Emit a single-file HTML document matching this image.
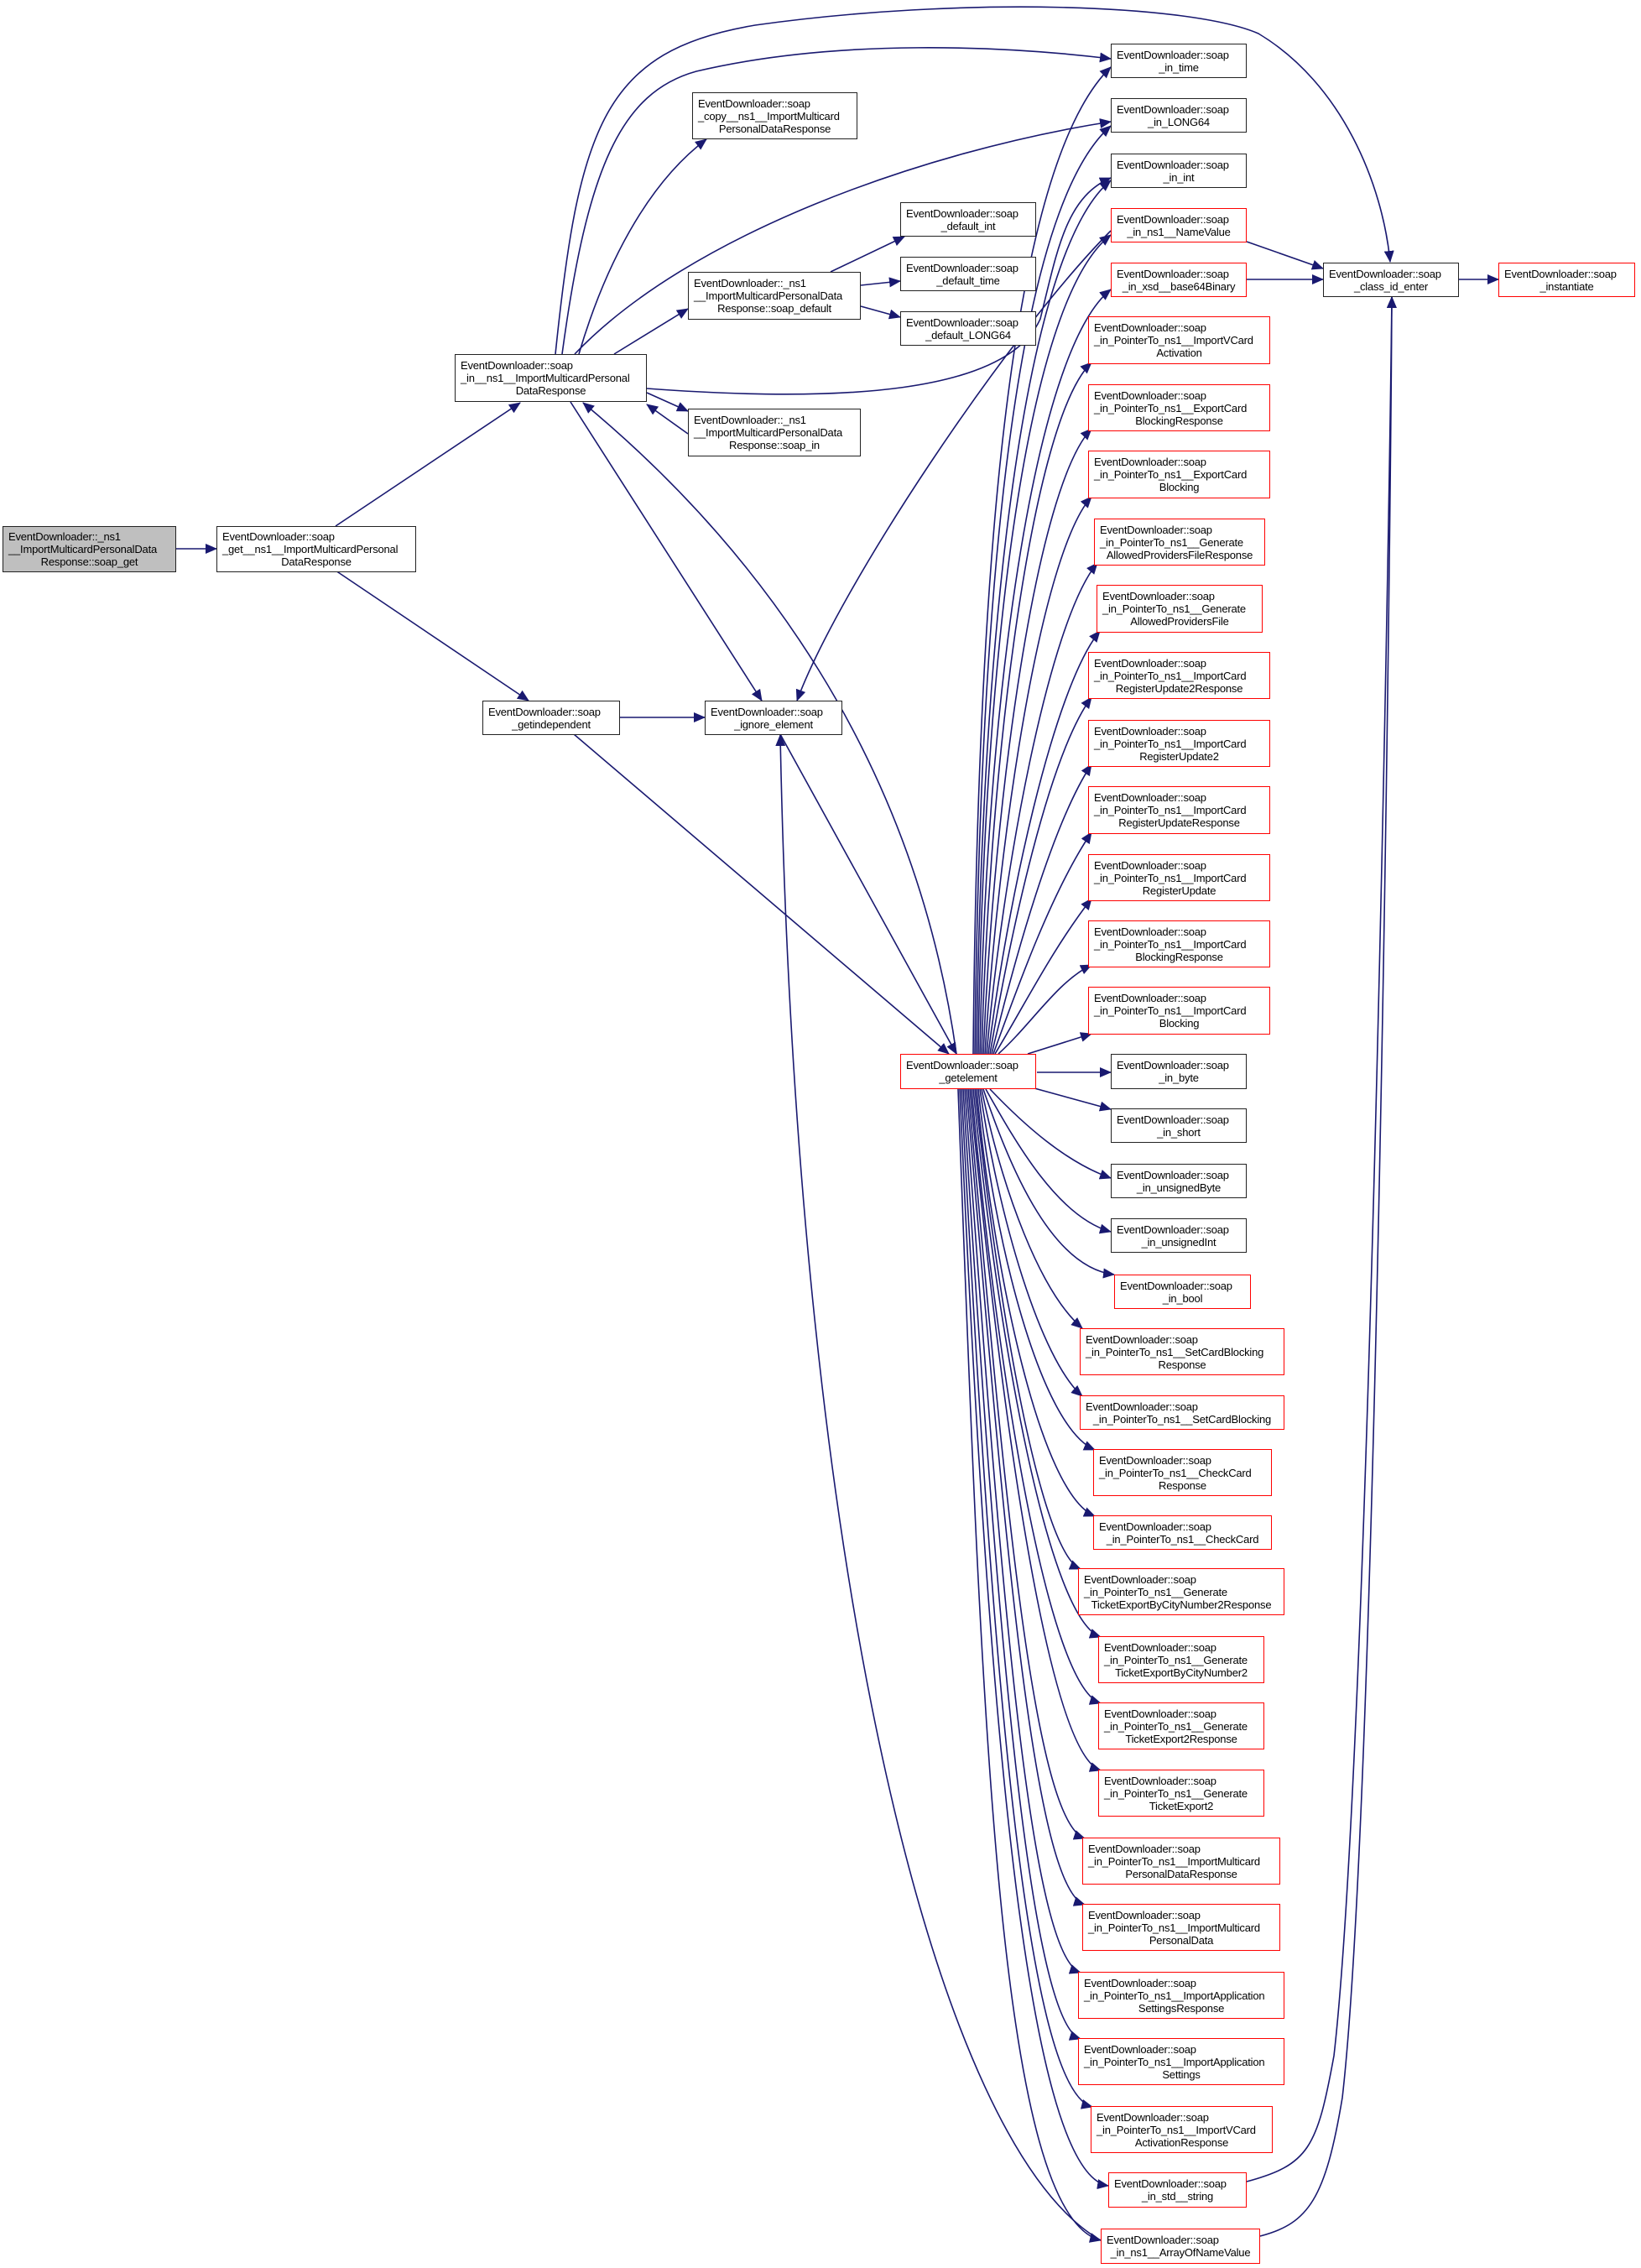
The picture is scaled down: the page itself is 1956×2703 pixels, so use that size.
<!DOCTYPE html>
<html><head><meta charset="utf-8"><style>
body{margin:0;background:#fff;width:1956px;height:2703px;position:relative;overflow:hidden;font-family:"Liberation Sans",sans-serif;}
.n{position:absolute;box-sizing:border-box;border:1.5px solid #222;background:#fff;font-size:13px;line-height:15px;color:#000;display:flex;flex-direction:column;justify-content:center;padding:0 6px;}
.n div{text-align:left;white-space:nowrap;letter-spacing:-0.2px}
.n div:last-child{text-align:center}
.r{border-color:#f00}
.g{background:#bfbfbf}
svg{position:absolute;left:0;top:0}
</style></head><body>
<svg width="1956" height="2703" viewBox="0 0 1956 2703">
<defs><marker id="a" markerUnits="userSpaceOnUse" markerWidth="14" markerHeight="12" refX="13" refY="6" orient="auto"><path d="M0,0 L14,6 L0,12 z" fill="#191970"/></marker></defs>
<g fill="none" stroke="#191970" stroke-width="1.6" marker-end="url(#a)">
<path d="M210 654 L258 654"/>
<path d="M400 627 L620 480"/>
<path d="M400 680 L630 835"/>
<path d="M739 855 L840 855"/>
<path d="M684 875 L1131 1256"/>
<path d="M930 875 L1140 1256"/>
<path d="M680 479 L908 835"/>
<path d="M1140 1256 C1090 900 900 650 695 480"/>
<path d="M1324 275 C1200 400 1000 700 950 835"/>
<path d="M1312 2670 C1120 2560 950 1900 930 876"/>
<path d="M662 422 C690 150 720 60 900 30 C1150 -5 1420 5 1500 40 C1600 100 1648 220 1657 312"/>
<path d="M670 422 C700 200 740 110 830 85 C1000 45 1200 55 1324 70"/>
<path d="M690 422 C720 320 770 220 842 166"/>
<path d="M685 422 C820 280 1100 180 1324 145"/>
<path d="M732 422 L820 368"/>
<path d="M771 463 C1000 480 1200 470 1240 380 C1260 300 1270 235 1324 212"/>
<path d="M771 468 L820 490"/>
<path d="M820 517 L771 482"/>
<path d="M990 324 L1078 282"/>
<path d="M1026 340 L1073 335"/>
<path d="M1026 365 L1073 378"/>
<path d="M1486 288 L1577 320"/>
<path d="M1486 333 L1577 333"/>
<path d="M1739 333 L1786 333"/>
<path d="M1486 2600 C1560 2580 1570 2560 1590 2450 C1630 2100 1655 700 1659 354"/>
<path d="M1502 2665 C1560 2650 1580 2620 1600 2500 C1640 2150 1657 700 1659 354"/>
<path d="M1160 1256 C1165 700 1200 200 1324 80"/>
<path d="M1162 1256 C1168 700 1210 250 1324 150"/>
<path d="M1164 1256 C1170 750 1220 300 1324 215"/>
<path d="M1166 1256 C1172 800 1220 360 1324 280"/>
<path d="M1168 1256 C1175 850 1230 420 1324 345"/>
<path d="M1170 1256 C1180 900 1230 500 1301 432"/>
<path d="M1172 1256 C1185 950 1235 580 1301 511"/>
<path d="M1174 1256 C1190 1000 1240 660 1301 592"/>
<path d="M1176 1256 C1195 1040 1250 740 1308 671"/>
<path d="M1178 1256 C1200 1080 1255 820 1311 752"/>
<path d="M1180 1256 C1205 1110 1250 900 1301 831"/>
<path d="M1182 1256 C1210 1140 1255 980 1301 911"/>
<path d="M1184 1256 C1215 1170 1255 1060 1301 992"/>
<path d="M1186 1256 C1220 1200 1255 1130 1301 1071"/>
<path d="M1190 1256 C1230 1220 1260 1170 1301 1150"/>
<path d="M1225 1256 L1301 1232"/>
<path d="M1236 1278 L1324 1278"/>
<path d="M1233 1297 L1324 1322"/>
<path d="M1180 1298 C1220 1340 1270 1385 1324 1404"/>
<path d="M1175 1298 C1210 1360 1260 1450 1324 1468"/>
<path d="M1172 1298 C1200 1380 1250 1510 1328 1519"/>
<path d="M1170 1298 C1195 1420 1240 1540 1290 1583"/>
<path d="M1168 1298 C1190 1450 1240 1620 1290 1664"/>
<path d="M1166 1298 C1185 1480 1240 1700 1305 1728"/>
<path d="M1164 1298 C1185 1520 1240 1780 1305 1807"/>
<path d="M1162 1298 C1190 1560 1240 1850 1288 1870"/>
<path d="M1160 1298 C1190 1600 1250 1930 1312 1951"/>
<path d="M1158 1298 C1190 1650 1250 2010 1312 2030"/>
<path d="M1156 1298 C1195 1700 1250 2090 1312 2110"/>
<path d="M1154 1298 C1195 1750 1230 2170 1293 2191"/>
<path d="M1152 1298 C1195 1800 1230 2250 1293 2270"/>
<path d="M1150 1298 C1190 1850 1225 2330 1288 2351"/>
<path d="M1148 1298 C1185 1900 1225 2410 1288 2430"/>
<path d="M1146 1298 C1180 1950 1220 2490 1302 2511"/>
<path d="M1144 1298 C1175 2000 1220 2590 1321 2605"/>
<path d="M1142 1298 C1170 2050 1190 2640 1312 2670"/>
</g>
</svg>
<div class="n g" style="left:3px;top:627px;width:207px;height:55px"><div>EventDownloader::_ns1</div><div>__ImportMulticardPersonalData</div><div>Response::soap_get</div></div>
<div class="n" style="left:258px;top:627px;width:238px;height:55px"><div>EventDownloader::soap</div><div>_get__ns1__ImportMulticardPersonal</div><div>DataResponse</div></div>
<div class="n" style="left:542px;top:422px;width:229px;height:57px"><div>EventDownloader::soap</div><div>_in__ns1__ImportMulticardPersonal</div><div>DataResponse</div></div>
<div class="n" style="left:575px;top:835px;width:164px;height:41px"><div>EventDownloader::soap</div><div>_getindependent</div></div>
<div class="n" style="left:840px;top:835px;width:164px;height:41px"><div>EventDownloader::soap</div><div>_ignore_element</div></div>
<div class="n" style="left:825px;top:110px;width:197px;height:56px"><div>EventDownloader::soap</div><div>_copy__ns1__ImportMulticard</div><div>PersonalDataResponse</div></div>
<div class="n" style="left:820px;top:324px;width:206px;height:57px"><div>EventDownloader::_ns1</div><div>__ImportMulticardPersonalData</div><div>Response::soap_default</div></div>
<div class="n" style="left:1073px;top:241px;width:162px;height:41px"><div>EventDownloader::soap</div><div>_default_int</div></div>
<div class="n" style="left:1073px;top:306px;width:162px;height:41px"><div>EventDownloader::soap</div><div>_default_time</div></div>
<div class="n" style="left:1073px;top:371px;width:162px;height:41px"><div>EventDownloader::soap</div><div>_default_LONG64</div></div>
<div class="n" style="left:820px;top:487px;width:206px;height:57px"><div>EventDownloader::_ns1</div><div>__ImportMulticardPersonalData</div><div>Response::soap_in</div></div>
<div class="n r" style="left:1073px;top:1256px;width:162px;height:42px"><div>EventDownloader::soap</div><div>_getelement</div></div>
<div class="n" style="left:1324px;top:52px;width:162px;height:41px"><div>EventDownloader::soap</div><div>_in_time</div></div>
<div class="n" style="left:1324px;top:117px;width:162px;height:41px"><div>EventDownloader::soap</div><div>_in_LONG64</div></div>
<div class="n" style="left:1324px;top:183px;width:162px;height:41px"><div>EventDownloader::soap</div><div>_in_int</div></div>
<div class="n r" style="left:1324px;top:248px;width:162px;height:41px"><div>EventDownloader::soap</div><div>_in_ns1__NameValue</div></div>
<div class="n r" style="left:1324px;top:313px;width:162px;height:41px"><div>EventDownloader::soap</div><div>_in_xsd__base64Binary</div></div>
<div class="n" style="left:1577px;top:313px;width:162px;height:41px"><div>EventDownloader::soap</div><div>_class_id_enter</div></div>
<div class="n r" style="left:1786px;top:313px;width:163px;height:41px"><div>EventDownloader::soap</div><div>_instantiate</div></div>
<div class="n r" style="left:1297px;top:377px;width:217px;height:57px"><div>EventDownloader::soap</div><div>_in_PointerTo_ns1__ImportVCard</div><div>Activation</div></div>
<div class="n r" style="left:1297px;top:458px;width:217px;height:56px"><div>EventDownloader::soap</div><div>_in_PointerTo_ns1__ExportCard</div><div>BlockingResponse</div></div>
<div class="n r" style="left:1297px;top:537px;width:217px;height:57px"><div>EventDownloader::soap</div><div>_in_PointerTo_ns1__ExportCard</div><div>Blocking</div></div>
<div class="n r" style="left:1304px;top:618px;width:204px;height:56px"><div>EventDownloader::soap</div><div>_in_PointerTo_ns1__Generate</div><div>AllowedProvidersFileResponse</div></div>
<div class="n r" style="left:1307px;top:697px;width:198px;height:57px"><div>EventDownloader::soap</div><div>_in_PointerTo_ns1__Generate</div><div>AllowedProvidersFile</div></div>
<div class="n r" style="left:1297px;top:777px;width:217px;height:56px"><div>EventDownloader::soap</div><div>_in_PointerTo_ns1__ImportCard</div><div>RegisterUpdate2Response</div></div>
<div class="n r" style="left:1297px;top:858px;width:217px;height:56px"><div>EventDownloader::soap</div><div>_in_PointerTo_ns1__ImportCard</div><div>RegisterUpdate2</div></div>
<div class="n r" style="left:1297px;top:937px;width:217px;height:57px"><div>EventDownloader::soap</div><div>_in_PointerTo_ns1__ImportCard</div><div>RegisterUpdateResponse</div></div>
<div class="n r" style="left:1297px;top:1018px;width:217px;height:56px"><div>EventDownloader::soap</div><div>_in_PointerTo_ns1__ImportCard</div><div>RegisterUpdate</div></div>
<div class="n r" style="left:1297px;top:1097px;width:217px;height:56px"><div>EventDownloader::soap</div><div>_in_PointerTo_ns1__ImportCard</div><div>BlockingResponse</div></div>
<div class="n r" style="left:1297px;top:1176px;width:217px;height:57px"><div>EventDownloader::soap</div><div>_in_PointerTo_ns1__ImportCard</div><div>Blocking</div></div>
<div class="n" style="left:1324px;top:1256px;width:162px;height:42px"><div>EventDownloader::soap</div><div>_in_byte</div></div>
<div class="n" style="left:1324px;top:1321px;width:162px;height:41px"><div>EventDownloader::soap</div><div>_in_short</div></div>
<div class="n" style="left:1324px;top:1387px;width:162px;height:41px"><div>EventDownloader::soap</div><div>_in_unsignedByte</div></div>
<div class="n" style="left:1324px;top:1452px;width:162px;height:41px"><div>EventDownloader::soap</div><div>_in_unsignedInt</div></div>
<div class="n r" style="left:1328px;top:1519px;width:163px;height:41px"><div>EventDownloader::soap</div><div>_in_bool</div></div>
<div class="n r" style="left:1287px;top:1583px;width:244px;height:56px"><div>EventDownloader::soap</div><div>_in_PointerTo_ns1__SetCardBlocking</div><div>Response</div></div>
<div class="n r" style="left:1287px;top:1663px;width:244px;height:41px"><div>EventDownloader::soap</div><div>_in_PointerTo_ns1__SetCardBlocking</div></div>
<div class="n r" style="left:1303px;top:1727px;width:213px;height:56px"><div>EventDownloader::soap</div><div>_in_PointerTo_ns1__CheckCard</div><div>Response</div></div>
<div class="n r" style="left:1303px;top:1806px;width:213px;height:41px"><div>EventDownloader::soap</div><div>_in_PointerTo_ns1__CheckCard</div></div>
<div class="n r" style="left:1285px;top:1869px;width:246px;height:56px"><div>EventDownloader::soap</div><div>_in_PointerTo_ns1__Generate</div><div>TicketExportByCityNumber2Response</div></div>
<div class="n r" style="left:1309px;top:1950px;width:198px;height:56px"><div>EventDownloader::soap</div><div>_in_PointerTo_ns1__Generate</div><div>TicketExportByCityNumber2</div></div>
<div class="n r" style="left:1309px;top:2029px;width:198px;height:56px"><div>EventDownloader::soap</div><div>_in_PointerTo_ns1__Generate</div><div>TicketExport2Response</div></div>
<div class="n r" style="left:1309px;top:2109px;width:198px;height:56px"><div>EventDownloader::soap</div><div>_in_PointerTo_ns1__Generate</div><div>TicketExport2</div></div>
<div class="n r" style="left:1290px;top:2190px;width:236px;height:56px"><div>EventDownloader::soap</div><div>_in_PointerTo_ns1__ImportMulticard</div><div>PersonalDataResponse</div></div>
<div class="n r" style="left:1290px;top:2269px;width:236px;height:56px"><div>EventDownloader::soap</div><div>_in_PointerTo_ns1__ImportMulticard</div><div>PersonalData</div></div>
<div class="n r" style="left:1285px;top:2350px;width:246px;height:56px"><div>EventDownloader::soap</div><div>_in_PointerTo_ns1__ImportApplication</div><div>SettingsResponse</div></div>
<div class="n r" style="left:1285px;top:2429px;width:246px;height:56px"><div>EventDownloader::soap</div><div>_in_PointerTo_ns1__ImportApplication</div><div>Settings</div></div>
<div class="n r" style="left:1300px;top:2510px;width:217px;height:56px"><div>EventDownloader::soap</div><div>_in_PointerTo_ns1__ImportVCard</div><div>ActivationResponse</div></div>
<div class="n r" style="left:1321px;top:2589px;width:165px;height:42px"><div>EventDownloader::soap</div><div>_in_std__string</div></div>
<div class="n r" style="left:1312px;top:2656px;width:190px;height:42px"><div>EventDownloader::soap</div><div>_in_ns1__ArrayOfNameValue</div></div>
</body></html>
